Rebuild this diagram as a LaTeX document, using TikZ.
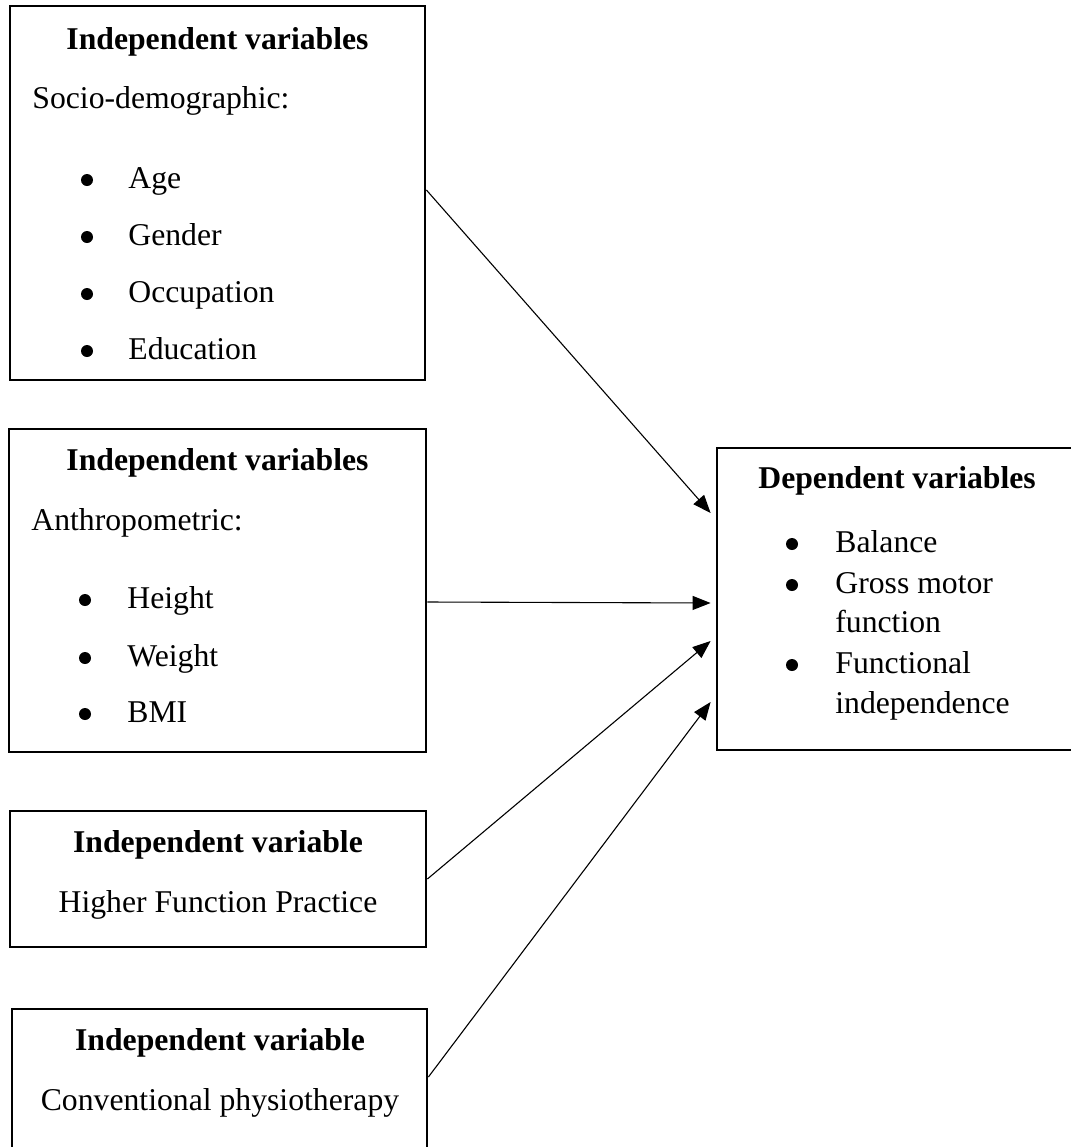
\documentclass[tikz,border=0pt]{standalone}
\usepackage{fontspec}
\setmainfont{Liberation Serif}
\usetikzlibrary{arrows.meta,fit}
\begin{document}
\begin{tikzpicture}[x=0.5pt,y=-0.5pt]
\tikzset{
  box/.style={draw, line width=1.4pt, inner sep=0pt},
  txt/.style={anchor=base west, inner sep=0pt, font=\fontsize{15.85}{19}\selectfont},
  ctxt/.style={anchor=base, inner sep=0pt, font=\fontsize{15.85}{19}\selectfont},
  btxt/.style={anchor=base, inner sep=0pt, font=\fontsize{15.85}{19}\selectfont\bfseries},
  bullet/.style={circle, fill=black, inner sep=0pt, minimum size=6pt},
  conn/.style={line width=0.55pt, -{Triangle[length=9pt,width=7pt]}}
}
\clip (0,0) rectangle (1071,1147);
\fill[white] (0,0) rectangle (1071,1147);

% boxes
\node[box, fit={(10,6) (425,380)}] (b1) {};
\node[box, fit={(9,429) (426,752)}] (b2) {};
\node[box, fit={(10,811) (426,947)}] (b3) {};
\node[box, fit={(12,1009) (427,1170)}] (b4) {};
\node[box, fit={(717,448) (1090,750)}] (b5) {};

% box 1
\node[btxt] (t1) at (217.5,49) {Independent variables};
\node[txt] (s1) at (32,108) {Socio-demographic:};
\node[bullet] (d11) at (87,180) {};
\node[txt] (i11) at (128,188) {Age};
\node[bullet] (d12) at (87,237) {};
\node[txt] (i12) at (128,245) {Gender};
\node[bullet] (d13) at (87,294) {};
\node[txt] (i13) at (128,302) {Occupation};
\node[bullet] (d14) at (87,351) {};
\node[txt] (i14) at (128,359) {Education};

% box 2
\node[btxt] (t2) at (217.5,470) {Independent variables};
\node[txt] (s2) at (31,530) {Anthropometric:};
\node[bullet] (d21) at (85,600) {};
\node[txt] (i21) at (127,608) {Height};
\node[bullet] (d22) at (85,658) {};
\node[txt] (i22) at (127,666) {Weight};
\node[bullet] (d23) at (85,714) {};
\node[txt] (i23) at (127,722) {BMI};

% box 3
\node[btxt] (t3) at (218,852) {Independent variable};
\node[ctxt] (s3) at (218,912) {Higher Function Practice};

% box 4
\node[btxt] (t4) at (220,1050) {Independent variable};
\node[ctxt] (s4) at (220,1110) {Conventional physiotherapy};

% box 5
\node[btxt, anchor=base west] (t5) at (758,488) {Dependent variables};
\node[bullet] (d51) at (792,544) {};
\node[txt] (i51) at (835,552) {Balance};
\node[bullet] (d52) at (792,585) {};
\node[txt] (i52) at (835,593) {Gross motor};
\node[txt] (i53) at (835,632) {function};
\node[bullet] (d54) at (792,665) {};
\node[txt] (i54) at (835,673) {Functional};
\node[txt] (i55) at (835,713) {independence};

% connector heights
\coordinate (y1s) at (0,190);
\coordinate (y1t) at (0,513);
\coordinate (y2s) at (0,602);
\coordinate (y2t) at (0,603);
\coordinate (y3s) at (0,879);
\coordinate (y3t) at (0,641);
\coordinate (y4s) at (0,1077);
\coordinate (y4t) at (0,702);

\draw[conn] (b1.east |- y1s) -- ([xshift=-2.5pt]b5.west |- y1t);
\draw[conn] (b2.east |- y2s) -- ([xshift=-2.5pt]b5.west |- y2t);
\draw[conn] (b3.east |- y3s) -- ([xshift=-2.5pt]b5.west |- y3t);
\draw[conn] (b4.east |- y4s) -- ([xshift=-2.5pt]b5.west |- y4t);
\end{tikzpicture}
\end{document}
